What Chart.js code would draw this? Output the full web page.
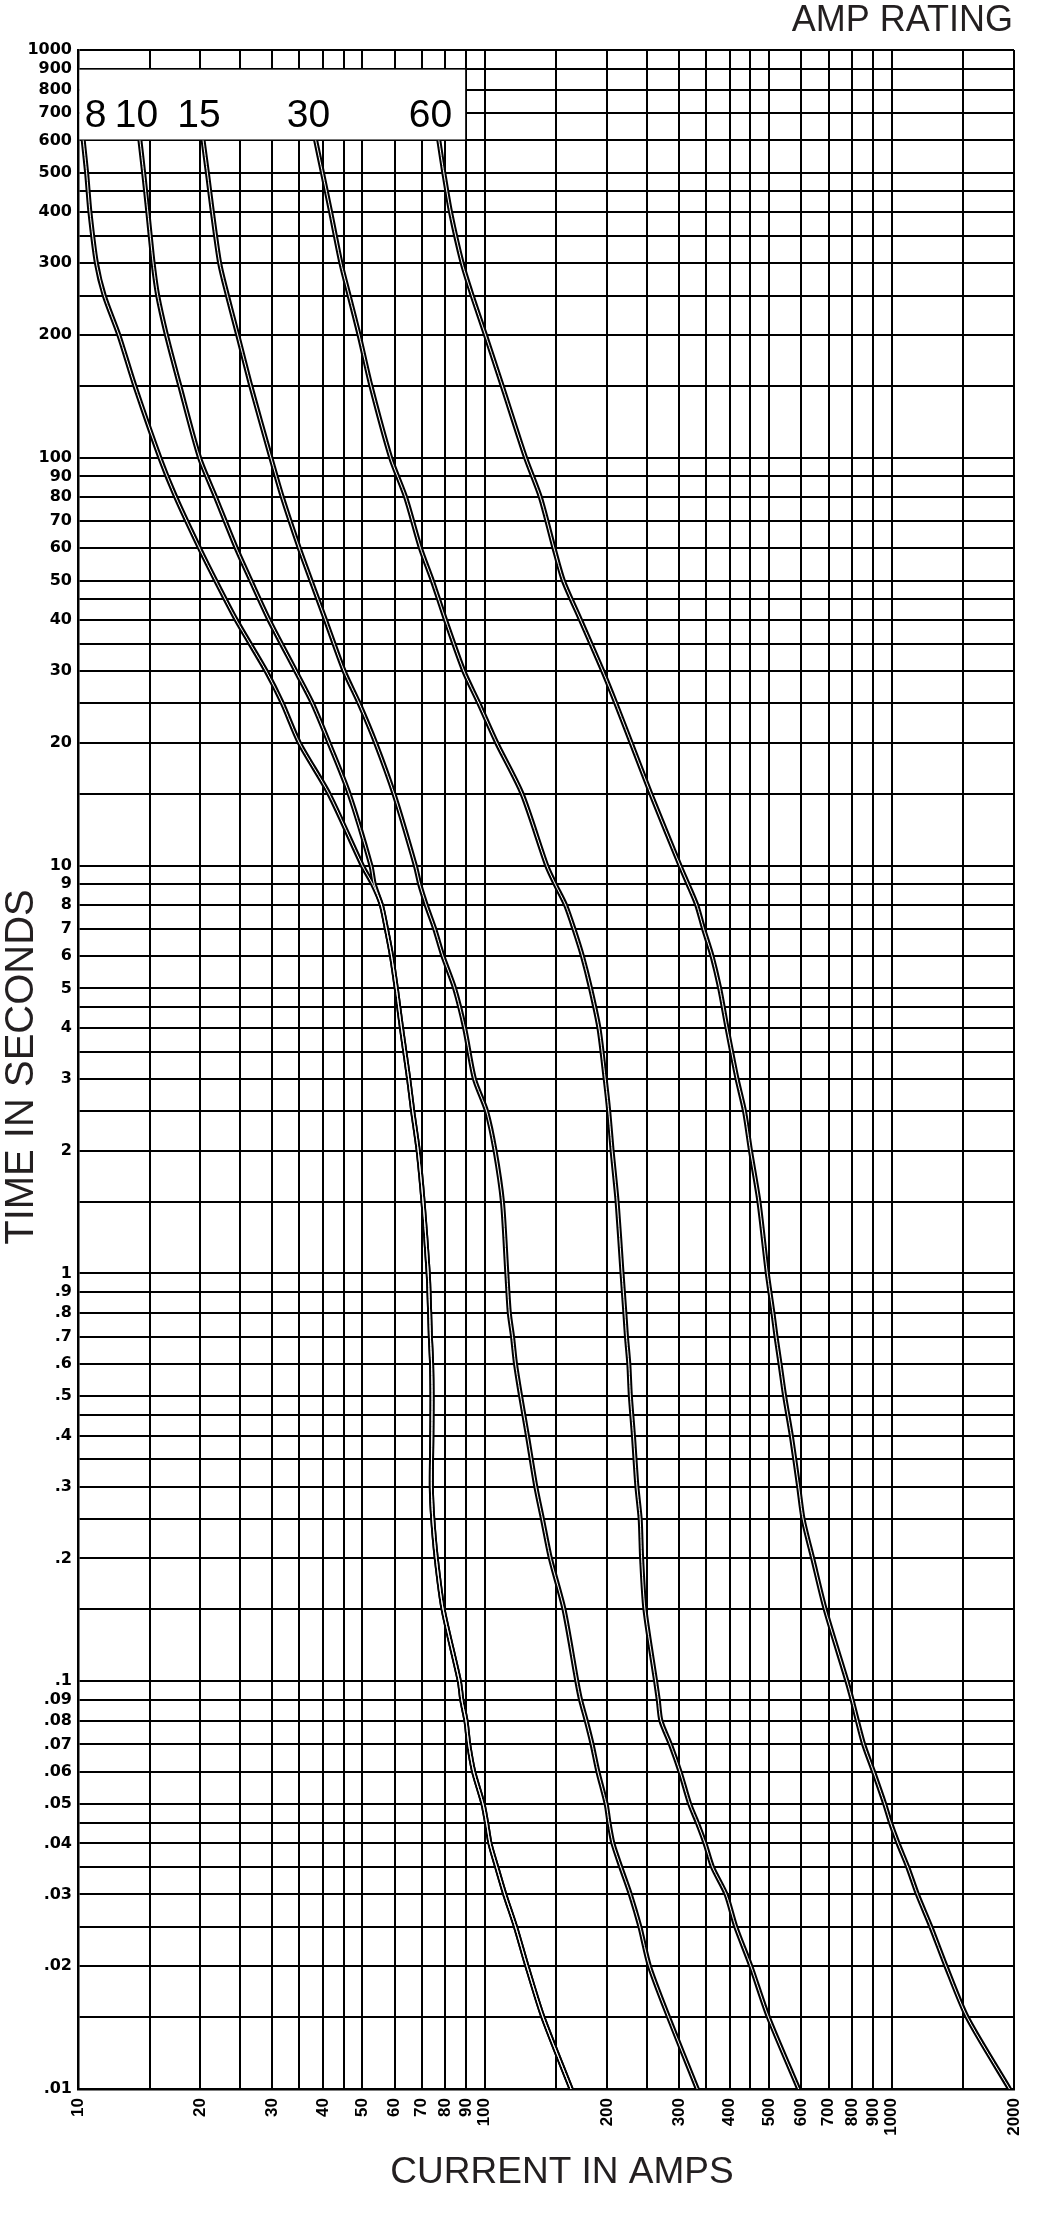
<!DOCTYPE html>
<html>
<head>
<meta charset="utf-8">
<title>Amp rating curves</title>
<script src="https://cdn.jsdelivr.net/npm/chart.js@4.4.1/dist/chart.umd.min.js"></script>
<style>
  html, body { margin: 0; padding: 0; background: #fff; }
  #curves { display: block; }
</style>
</head>
<body>
<canvas id="curves" width="1048" height="2227"></canvas>
<script>
// time points (seconds) shared by every curve
var times = [600, 500, 400, 300, 250, 200, 150,
    100, 80, 60, 50, 40, 30, 25, 20, 15,
    10, 9, 8, 7, 6, 5, 4, 3, 2.5, 2, 1.5,
    1, 0.8, 0.7, 0.6, 0.5, 0.4, 0.3, 0.25, 0.2, 0.15,
    0.1, 0.09, 0.08, 0.07, 0.06, 0.05, 0.045, 0.04, 0.035, 0.03, 0.025, 0.02, 0.015, 0.01];

// current (amps) at those times
var amps8 = [10.3, 10.5, 10.7, 11.1, 11.6, 12.6, 13.8,
    15.9, 17.4, 19.9, 21.8, 24.5, 29, 31.8, 35, 41.4,
    50, 53, 55.7, 57.3, 59, 60.6, 62.4, 65, 66.5, 68.6, 70.5,
    72.6, 73.2, 73.5, 74, 74.2, 74.1, 73.9, 74.5, 76, 79,
    86.6, 87.8, 89.9, 91.3, 93.9, 99, 101, 103, 107, 112, 119, 127, 139, 163];
var amps10 = [14.2, 14.5, 14.85, 15.3, 15.7, 16.5, 17.8,
    19.9, 21.8, 24.5, 26.6, 29.5, 34.3, 37.7, 41.4, 46.4,
    52.5, 53.5, 55.7, 57.3, 59, 60.6, 62.4, 65, 66.5, 68.6, 70.5,
    72.6, 73.2, 73.5, 74, 74.2, 74.1, 73.9, 74.5, 76, 79,
    86.6, 87.8, 89.9, 91.3, 93.9, 99, 101, 103, 107, 112, 119, 127, 139, 163];
var amps15 = [20.3, 20.8, 21.4, 22.3, 23.3, 24.7, 26.6,
    29.8, 31.8, 35, 37.4, 40.6, 45.1, 49.1, 53.9, 59.8,
    67.5, 69.2, 71.8, 75.3, 78.9, 84.3, 89.2, 94.3, 101, 106, 110.5,
    113.3, 114.9, 117, 119, 122.5, 127.3, 133.5, 138.6, 145, 156.6,
    168.4, 172, 177.6, 183.6, 189.7, 198.8, 202, 206.6, 216, 228, 240.6, 254, 283, 333];
var amps30 = [38.4, 39.9, 41.8, 44.3, 46.4, 49.1, 52.5,
    58.7, 63.9, 69.5, 74.3, 80.1, 88.8, 96.7, 107, 123.5,
    142, 149, 158, 165.6, 173.8, 182, 190.8, 197.7, 201.7, 205.6, 211.5,
    217.5, 221, 223, 226, 228, 232, 236.6, 241, 243, 247.6,
    263, 267, 271, 286, 302, 319, 333, 348, 363, 392, 414, 451, 498, 591];
var amps60 = [77.1, 79.3, 82.4, 88, 93.1, 100.4, 110.4,
    126, 137, 148, 156, 172, 195, 210, 229, 256,
    302, 316, 332, 345, 362, 378, 394, 417, 435, 450, 472,
    495, 511, 520, 532, 546, 567, 591, 606, 640, 687,
    777, 800, 824, 854, 903, 962, 994, 1038, 1096, 1158, 1249, 1361, 1534, 1950];

var ratings = ['8', '10', '15', '30', '60'];
var ratingAmps = [amps8, amps10, amps15, amps30, amps60];

// axis grid and tick labels
var xGrid = [10, 15, 20, 25, 30, 35, 40, 45, 50, 60, 70, 80, 90, 100,
    150, 200, 250, 300, 350, 400, 450, 500, 600, 700, 800, 900, 1000, 1500, 2000];
var xTickValues = [10, 20, 30, 40, 50, 60, 70, 80, 90, 100,
    200, 300, 400, 500, 600, 700, 800, 900, 1000, 2000];
var xTickText = ['10', '20', '30', '40', '50', '60', '70', '80', '90', '100',
    '200', '300', '400', '500', '600', '700', '800', '900', '1000', '2000'];

var yTickValues = [1000, 900, 800, 700, 600, 500, 400, 300, 200,
    100, 90, 80, 70, 60, 50, 40, 30, 20,
    10, 9, 8, 7, 6, 5, 4, 3, 2,
    1, 0.9, 0.8, 0.7, 0.6, 0.5, 0.4, 0.3, 0.2,
    0.1, 0.09, 0.08, 0.07, 0.06, 0.05, 0.04, 0.03, 0.02, 0.01];
var yTickText = ['1000', '900', '800', '700', '600', '500', '400', '300', '200',
    '100', '90', '80', '70', '60', '50', '40', '30', '20',
    '10', '9', '8', '7', '6', '5', '4', '3', '2',
    '1', '.9', '.8', '.7', '.6', '.5', '.4', '.3', '.2',
    '.1', '.09', '.08', '.07', '.06', '.05', '.04', '.03', '.02', '.01'];
var yHalfGrid = [450, 350, 250, 150, 45, 35, 25, 15, 4.5, 3.5, 2.5, 1.5,
    0.45, 0.35, 0.25, 0.15, 0.045, 0.035, 0.025, 0.015];

// where the rating numbers sit inside the white box (pixels)
var ratingLabelX = [95.5, 136.5, 199, 308.5, 430.5];

function lookup(values, texts, v) {
    for (var i = 0; i < values.length; i++) {
        if (Math.abs(values[i] - v) / values[i] < 1e-6) return texts[i];
    }
    return '';
}

function curvePoints(amps) {
    return amps.map(function (a, i) { return { x: a, y: times[i] }; });
}

// white cores first so they end up drawn over the black strokes
var datasets = [];
ratings.forEach(function (r, i) {
    datasets.push({
        label: r + ' A core',
        data: curvePoints(ratingAmps[i]),
        borderColor: '#ffffff',
        borderWidth: 1,
        showLine: true,
        pointRadius: 0,
        tension: 0.25
    });
});
ratings.forEach(function (r, i) {
    datasets.push({
        label: r + ' A',
        data: curvePoints(ratingAmps[i]),
        borderColor: '#000000',
        borderWidth: 5,
        showLine: true,
        pointRadius: 0,
        tension: 0.25
    });
});

var labelBox = {
    id: 'labelBox',
    beforeDatasetsDraw: function (chart) {
        var ctx = chart.ctx;
        var xs = chart.scales.x, ys = chart.scales.y;
        var l = xs.getPixelForValue(10), r = xs.getPixelForValue(90);
        var t = ys.getPixelForValue(900), b = ys.getPixelForValue(600);
        ctx.save();
        ctx.fillStyle = '#ffffff';
        ctx.fillRect(l + 1.5, t + 1, (r - 1) - (l + 1.5), (b - 1) - (t + 1));
        ctx.fillStyle = '#000000';
        ctx.font = '39px "Liberation Sans", Arial, sans-serif';
        ctx.textAlign = 'center';
        ctx.textBaseline = 'alphabetic';
        ratings.forEach(function (s, i) {
            ctx.fillText(s, ratingLabelX[i], b - 13);
        });
        ctx.restore();
    },
    afterDraw: function (chart) {
        var ctx = chart.ctx;
        ctx.save();
        ctx.fillStyle = '#231f20';
        ctx.textBaseline = 'alphabetic';
        ctx.font = '36px "Liberation Sans", Arial, sans-serif';
        ctx.textAlign = 'right';
        ctx.fillText('AMP RATING', 1013, 31);
        ctx.font = '37px "Liberation Sans", Arial, sans-serif';
        ctx.textAlign = 'center';
        ctx.fillText('CURRENT IN AMPS', 562, 2183);
        ctx.translate(33, 1067);
        ctx.rotate(-Math.PI / 2);
        ctx.font = '40px "Liberation Sans", Arial, sans-serif';
        ctx.fillText('TIME IN SECONDS', 0, 0);
        ctx.restore();
    }
};

var ctx = document.getElementById('curves').getContext('2d');

var curves = new Chart(ctx, {
    type: 'scatter',
    data: { datasets: datasets },
    plugins: [labelBox],
    options: {
        responsive: false,
        animation: false,
        layout: { padding: { top: 50, right: 34, bottom: 0, left: 0 } },
        plugins: {
            legend: { display: false },
            tooltip: { enabled: false },
            title: { display: false }
        },
        scales: {
            x: {
                type: 'logarithmic',
                position: 'bottom',
                min: 10,
                max: 2000,
                afterBuildTicks: function (s) {
                    s.ticks = xGrid.map(function (v) { return { value: v }; });
                },
                afterFit: function (s) {
                    s.height = 138;
                    s.paddingLeft = 0;
                    s.paddingRight = 0;
                },
                grid: { color: '#000000', lineWidth: 2, drawTicks: false },
                border: { color: '#000000', width: 2.5 },
                ticks: {
                    autoSkip: false,
                    minRotation: 90,
                    maxRotation: 90,
                    padding: 9,
                    color: '#000000',
                    font: { family: '"Liberation Sans", Arial, sans-serif', size: 17, weight: 'bold' },
                    callback: function (v) { return lookup(xTickValues, xTickText, v); }
                }
            },
            y: {
                type: 'logarithmic',
                position: 'left',
                min: 0.01,
                max: 1000,
                afterBuildTicks: function (s) {
                    s.ticks = yTickValues.concat(yHalfGrid).map(function (v) { return { value: v }; });
                },
                afterFit: function (s) {
                    s.width = 78;
                    s.paddingTop = 0;
                    s.paddingBottom = 0;
                },
                grid: { color: '#000000', lineWidth: 2, drawTicks: false },
                border: { color: '#000000', width: 2.5 },
                ticks: {
                    autoSkip: false,
                    padding: 6,
                    color: '#000000',
                    font: { family: '"DejaVu Sans", sans-serif', size: 16, weight: 'bold' },
                    callback: function (v) { return lookup(yTickValues, yTickText, v); }
                }
            }
        }
    }
});
</script>
</body>
</html>
